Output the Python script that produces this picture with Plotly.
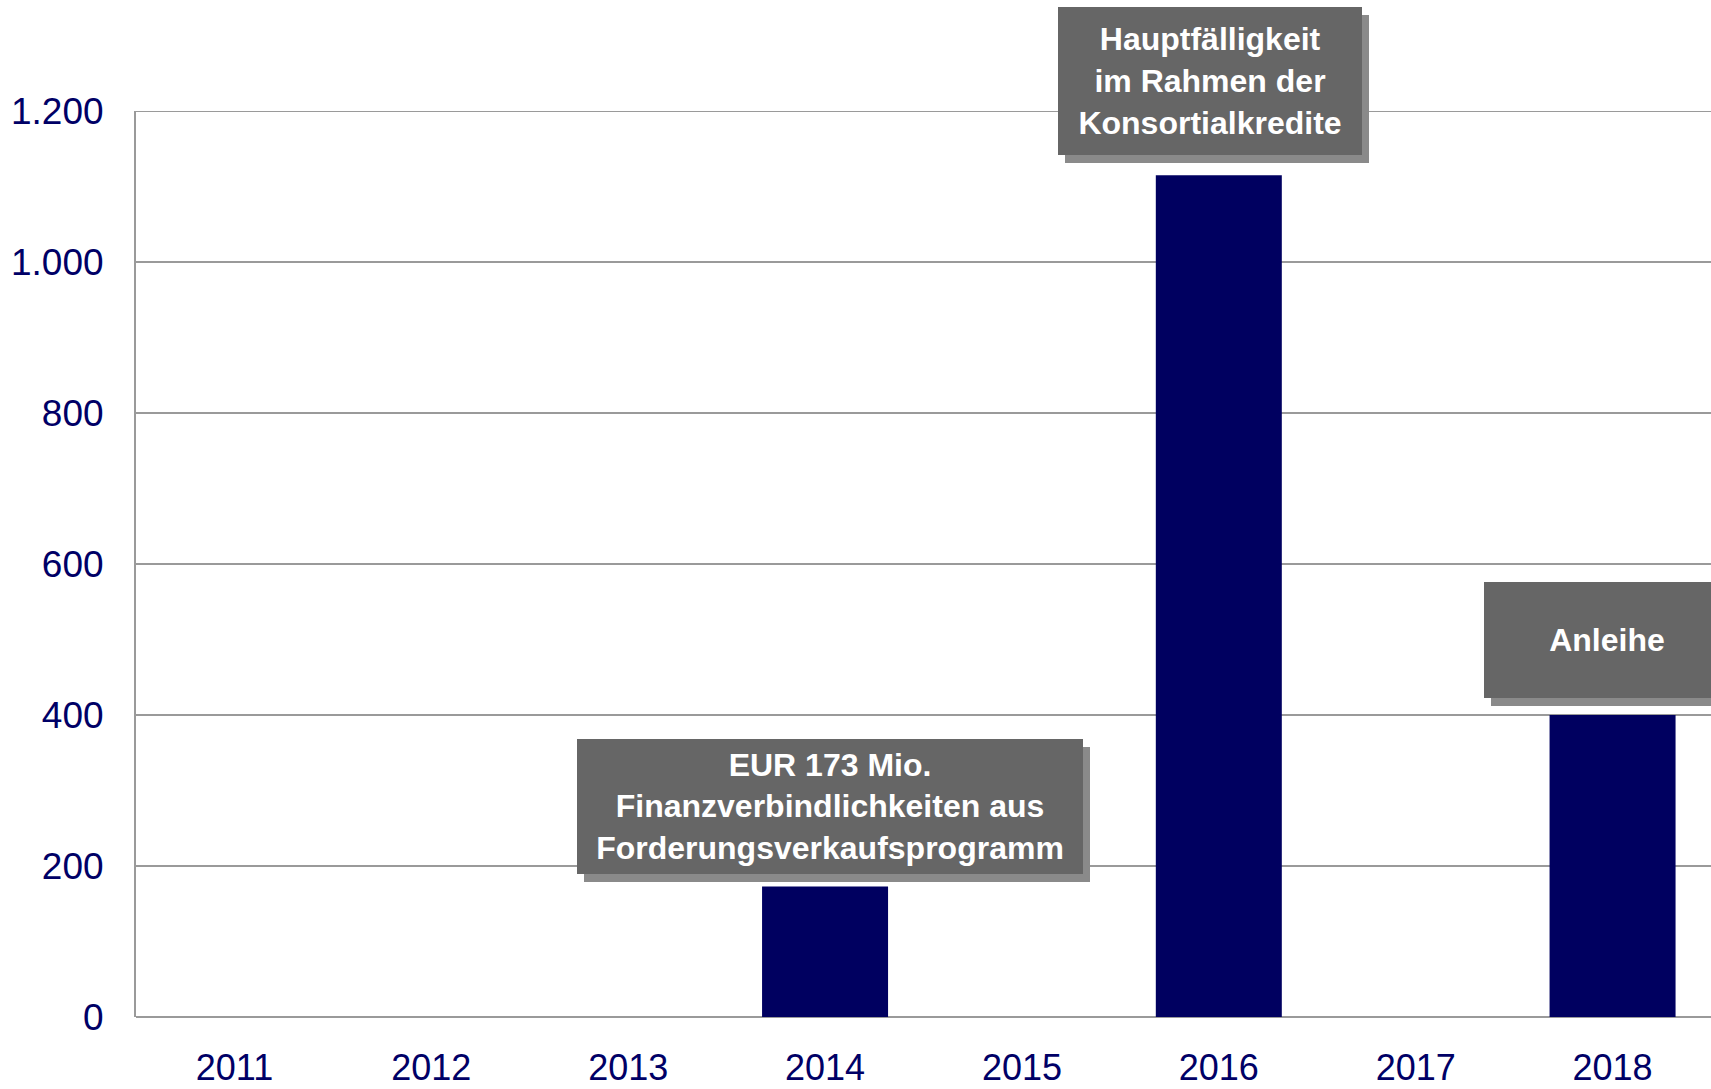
import plotly.graph_objects as go

years = ["2011", "2012", "2013", "2014", "2015", "2016", "2017", "2018"]
values = [0, 0, 0, 173, 0, 1115, 0, 400]
y_ticks = [0, 200, 400, 600, 800, 1000, 1200]
y_tick_labels = ["0", "200", "400", "600", "800", "1.000", "1.200"]

notes = [
    # (category, y value in axis units, text, width, height, xshift)
    ("2014", 278.8, "EUR 173 Mio.<br>Finanzverbindlichkeiten aus<br>Forderungsverkaufsprogramm", 506, 135, 5),
    ("2016", 1240, "Hauptfälligkeit<br>im Rahmen der<br>Konsortialkredite", 304, 148, -9),
    ("2018", 498.7, "Anleihe", 246, 116, -6),
]
Y_MAX = 1200

FONT = "Arial, 'Liberation Sans', sans-serif"
NAVY = "#000066"
GRID = "#9a9a9a"

fig = go.Figure()
fig.add_trace(go.Bar(x=years, y=values, marker_color="#000060", width=0.64,
                     marker_line_width=0, hoverinfo="skip"))

annotations = []
for cat, yv, txt, w, h, xs in notes:
    xi = years.index(cat)
    bold = "<br>".join("<b>" + s + "</b>" for s in txt.split("<br>"))
    common = dict(x=xi, y=yv / Y_MAX, xref="x", yref="paper", showarrow=False,
                  xanchor="center", yanchor="middle",
                  width=w, height=h, borderpad=0, borderwidth=0,
                  align="center", valign="middle")
    # drop shadow box (no text)
    annotations.append(dict(common, text=" ", bgcolor="#8a8a8a",
                            font=dict(family=FONT, size=32, color="#8a8a8a"),
                            xshift=xs + 7, yshift=-8))
    annotations.append(dict(common, text=bold, bgcolor="#666666",
                            font=dict(family=FONT, size=32, color="white"),
                            xshift=xs))

fig.update_layout(
    width=1711, height=1089,
    margin=dict(l=136, r=0, t=111, b=72),
    paper_bgcolor="white", plot_bgcolor="white",
    showlegend=False,
    annotations=annotations,
    shapes=[dict(type="line", xref="paper", yref="y", x0=0, x1=1, y0=Y_MAX, y1=Y_MAX,
                 line=dict(color=GRID, width=2), layer="below")],
    xaxis=dict(type="category", range=[-0.5, 7.5], showgrid=False,
               showline=False, zeroline=False, ticks="", automargin=False,
               tickfont=dict(family=FONT, size=36, color=NAVY),
               ticklabelstandoff=26),
    yaxis=dict(range=[0, Y_MAX], tickvals=y_ticks, ticktext=y_tick_labels,
               showgrid=True, gridcolor=GRID, gridwidth=2,
               showline=True, linecolor=GRID, linewidth=2,
               zeroline=True, zerolinecolor=GRID, zerolinewidth=2,
               ticks="", automargin=False,
               tickfont=dict(family=FONT, size=37, color=NAVY),
               ticklabelstandoff=23),
)

fig.write_html("out.html", config={"displayModeBar": False},
               post_script="document.body.style.margin='0';document.body.style.overflow='hidden';")
